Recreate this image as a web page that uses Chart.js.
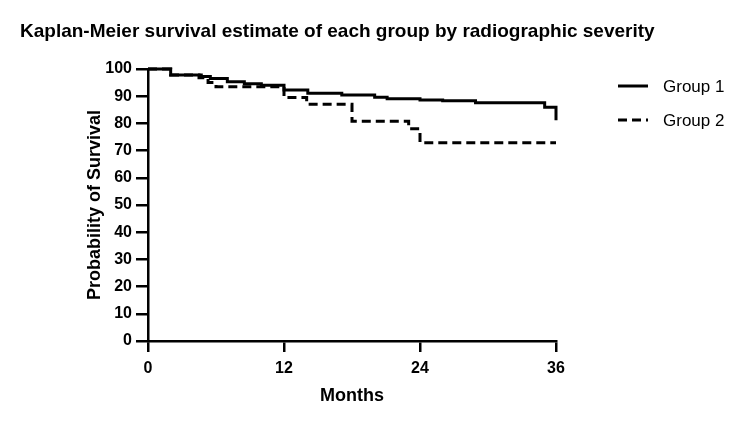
<!DOCTYPE html>
<html>
<head>
<meta charset="utf-8">
<script src="https://cdn.jsdelivr.net/npm/chart.js@4"></script>
<style>
  html, body { margin: 0; padding: 0; background: #fff; }
  #wrap { width: 750px; height: 427px; }
</style>
</head>
<body>
<div id="wrap"><canvas id="kmChart" width="750" height="427"></canvas></div>
<script>
// Kaplan-Meier curves, values
const seriesNames = ['Group 1', 'Group 2'];

const months1 = [0, 2, 4.7, 5.5, 7, 8.5, 10, 12, 14.1, 17.1, 20, 21.1, 24, 26, 28.9, 35, 36];
const surv1   = [100, 97.8, 97.2, 96.5, 95.3, 94.6, 94, 92.3, 91.1, 90.4, 89.6, 89.1, 88.6, 88.3, 87.6, 85.9, 81.2];

const months2 = [0, 2, 4.5, 5.3, 6, 12, 14, 18, 23, 24, 36];
const surv2   = [100, 97.8, 96.8, 95, 93.5, 89.5, 87, 80.8, 78, 72.9, 72.9];

const xTicks = [0, 12, 24, 36];
const yTicks = [0, 10, 20, 30, 40, 50, 60, 70, 80, 90, 100];

const FONT = 'Liberation Sans, Arial, Helvetica, sans-serif';

function toPoints(xs, ys) {
    return xs.map((x, i) => ({ x: x, y: ys[i] }));
}

// Legend drawn by hand so it can sit apart from the plot
const sideLegend = {
    id: 'sideLegend',
    afterDraw(chart) {
        const ctx = chart.ctx;
        ctx.save();
        chart.data.datasets.forEach((ds, i) => {
            const y = 86 + i * 34;
            ctx.beginPath();
            ctx.setLineDash(ds.borderDash || []);
            ctx.lineWidth = ds.borderWidth;
            ctx.strokeStyle = ds.borderColor;
            ctx.moveTo(618, y);
            ctx.lineTo(648, y);
            ctx.stroke();
            ctx.setLineDash([]);
            ctx.fillStyle = '#000';
            ctx.font = '17px ' + FONT;
            ctx.textBaseline = 'middle';
            ctx.textAlign = 'left';
            ctx.fillText(ds.label, 663, y + 1);
        });
        ctx.restore();
    }
};

const ctx = document.getElementById('kmChart').getContext('2d');
new Chart(ctx, {
    type: 'line',
    data: {
        datasets: [
            {
                label: seriesNames[0],
                data: toPoints(months1, surv1),
                borderColor: '#000',
                borderWidth: 3,
                stepped: 'before',
                pointRadius: 0,
                clip: 6
            },
            {
                label: seriesNames[1],
                data: toPoints(months2, surv2),
                borderColor: '#000',
                borderWidth: 3,
                borderDash: [9, 5],
                stepped: 'before',
                pointRadius: 0,
                clip: 6
            }
        ]
    },
    options: {
        responsive: false,
        animation: false,
        layout: {
            padding: { left: 20, right: 20, top: 0, bottom: 0 }
        },
        plugins: {
            legend: { display: false },
            tooltip: { enabled: false },
            title: {
                display: true,
                text: 'Kaplan-Meier survival estimate of each group by radiographic severity',
                align: 'start',
                color: '#000',
                font: { family: FONT, size: 19, weight: 'bold' },
                padding: { top: 20, bottom: 26.2 }
            }
        },
        scales: {
            x: {
                type: 'linear',
                min: 0,
                max: 36,
                afterBuildTicks: axis => { axis.ticks = xTicks.map(v => ({ value: v })); },
                afterFit: axis => { axis.height = 86; },
                grid: { drawOnChartArea: false, drawTicks: true, tickLength: 11, color: '#000', lineWidth: 2.5 },
                border: { color: '#000', width: 2.5 },
                ticks: { color: '#000', font: { family: FONT, size: 16, weight: 'bold' }, padding: 7, maxRotation: 0 },
                title: {
                    display: true,
                    text: 'Months',
                    color: '#000',
                    font: { family: FONT, size: 18, weight: 'bold' },
                    padding: { top: 0, bottom: 20 }
                }
            },
            y: {
                min: 0,
                max: 100,
                afterBuildTicks: axis => { axis.ticks = yTicks.map(v => ({ value: v })); },
                afterFit: axis => { axis.width = 128; },
                grid: { drawOnChartArea: false, drawTicks: true, tickLength: 12, color: '#000', lineWidth: 2.5 },
                border: { color: '#000', width: 2.5 },
                ticks: { color: '#000', font: { family: FONT, size: 16, weight: 'bold' }, padding: 4 },
                title: {
                    display: true,
                    text: 'Probability of Survival',
                    color: '#000',
                    font: { family: FONT, size: 18, weight: 'bold' },
                    padding: { top: 64, bottom: 0 }
                }
            },
            // empty right-hand axis, only keeps room for the legend
            spacer: {
                type: 'linear',
                position: 'right',
                grid: { display: false },
                border: { display: false },
                ticks: { display: false },
                afterFit: axis => { axis.width = 174; }
            }
        }
    },
    plugins: [sideLegend]
});
</script>
</body>
</html>
